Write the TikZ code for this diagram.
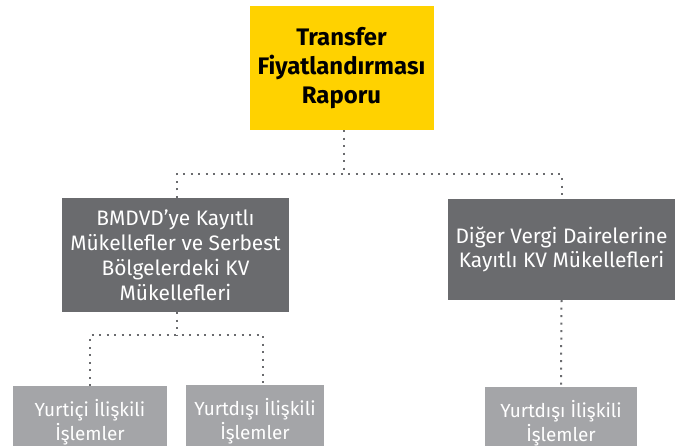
\documentclass[tikz,border=0pt]{standalone}
\usepackage{fontspec}
\setmainfont{Fira Sans}
\definecolor{eyyellow}{HTML}{FFD200}
\definecolor{eydark}{HTML}{6A6B6E}
\definecolor{eylight}{HTML}{A4A5A8}
\definecolor{dotgray}{HTML}{6A6B6E}
\begin{document}
\begin{tikzpicture}[x=1bp,y=-1bp,
  box/.style={rectangle,inner sep=0pt,align=center,text=white,font=\fontsize{21}{25}\selectfont},
  topbox/.style={rectangle,fill=eyyellow,inner sep=0pt,align=center,text=black,font=\fontsize{24}{29}\selectfont\bfseries},
  darkbox/.style={box,fill=eydark},
  lightbox/.style={box,fill=eylight,anchor=north,font=\fontsize{19}{24}\selectfont},
  dotline/.style={draw=dotgray,line width=2bp,dash pattern=on 2bp off 5.5bp}]
\useasboundingbox (0,0) rectangle (680,446);
\clip (0,0) rectangle (680,446);
\node[topbox,minimum width=184bp,minimum height=124bp] (t) at (341.5,68) {Transfer\\Fiyatlandırması\\Raporu};
\node[darkbox,minimum width=227bp,minimum height=114bp] (l) at (175.5,255) {BMDVD’ye Kayıtlı\\Mükellefler ve Serbest\\Bölgelerdeki KV\\Mükellefleri};
\node[darkbox,minimum width=227bp,minimum height=101bp] (r) at (561.5,249.5) {Diğer Vergi Dairelerine\\Kayıtlı KV Mükellefleri};
\node[lightbox,minimum width=154bp,minimum height=72bp] (a) at (90,386) {Yurtiçi İlişkili\\İşlemler};
\node[lightbox,minimum width=138bp,minimum height=72bp] (b) at (255,385) {Yurtdışı İlişkili\\İşlemler};
\node[lightbox,minimum width=152bp,minimum height=72bp] (c) at (561,387) {Yurtdışı İlişkili\\İşlemler};
\coordinate (j1) at ([xshift=2.5bp]t.south |- 0,174);
\coordinate (j2) at ([xshift=1.5bp]l.south |- 0,335);
\coordinate (bn) at ([xshift=8bp]b.north);
\draw[dotline] ([xshift=2.5bp]t.south) -- (j1);
\draw[dotline] ([xshift=1.5bp]l.north) |- (j1) -| (r.north);
\draw[dotline] ([xshift=1.5bp]l.south) -- (j2);
\draw[dotline] (a.north) |- (j2) -| (bn);
\draw[dotline] (r.south) -- (c.north);
\end{tikzpicture}
\end{document}
